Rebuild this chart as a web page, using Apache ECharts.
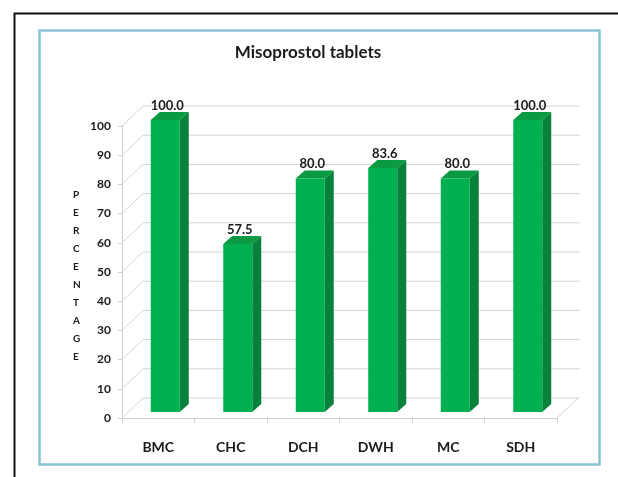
<!DOCTYPE html>
<html>
<head>
<meta charset="utf-8">
<script src="https://cdn.jsdelivr.net/npm/echarts@6/dist/echarts.min.js"></script>
<style>
  html, body { margin: 0; padding: 0; background: #fff; }
  #chart { width: 618px; height: 477px; }
</style>
</head>
<body>
<div id="chart"></div>
<script>
// data
const categories = ["BMC", "CHC", "DCH", "DWH", "MC", "SDH"];
const percentValues = [100.0, 57.5, 80.0, 83.6, 80.0, 100.0];
const yTicks = [0, 10, 20, 30, 40, 50, 60, 70, 80, 90, 100];

// 3d look: offset of the back wall and of the bars from the front plane
const BACK = [21, -20];
const BAR_FRONT = [7, -6];
const BAR_DEPTH = [9, -8];

const chart = echarts.init(document.getElementById("chart"));

// back wall gridlines, left wall and floor
const renderFrame = (params, api) => {
  const cs = params.coordSys;
  const left = cs.x;
  const right = cs.x + cs.width;
  const children = [];
  const lineStyle = { stroke: "#d4d4d4", lineWidth: 1 };
  yTicks.forEach((v) => {
    const y = api.coord([0, v])[1];
    children.push({
      type: "line",
      shape: { x1: left + BACK[0], y1: y + BACK[1], x2: right + BACK[0] + 2, y2: y + BACK[1] },
      style: lineStyle
    });
    children.push({
      type: "line",
      shape: { x1: left, y1: y, x2: left + BACK[0], y2: y + BACK[1] },
      style: lineStyle
    });
  });
  const y0 = api.coord([0, 0])[1];
  children.push({
    type: "line",
    shape: { x1: right, y1: y0, x2: right + BACK[0], y2: y0 + BACK[1] },
    style: lineStyle
  });
  return { type: "group", children };
};

// one 3d bar: front, side, top and its value label
const renderBar = (params, api) => {
  const idx = api.value(0);
  const val = api.value(1);
  const top = api.coord([idx, val]);
  const base = api.coord([idx, 0]);
  const w = api.size([1, 0])[0] * 0.4;
  const x1 = top[0] - w / 2 + BAR_FRONT[0];
  const x2 = x1 + w;
  const yt = top[1] + BAR_FRONT[1];
  const yb = base[1] + BAR_FRONT[1];
  const dx = BAR_DEPTH[0];
  const dy = BAR_DEPTH[1];
  return {
    type: "group",
    children: [
      {
        type: "polygon",
        shape: { points: [[x2, yt], [x2 + dx, yt + dy], [x2 + dx, yb + dy], [x2, yb]] },
        style: { fill: "#08823a" }
      },
      {
        type: "polygon",
        shape: { points: [[x1, yt], [x1 + dx, yt + dy], [x2 + dx, yt + dy], [x2, yt]] },
        style: { fill: "#0b9a42" }
      },
      {
        type: "rect",
        shape: { x: x1, y: yt, width: w, height: yb - yt },
        style: { fill: "#00b050" }
      },
      {
        type: "text",
        style: {
          text: val.toFixed(1),
          x: (x1 + x2) / 2 + 2,
          y: yt + dy,
          align: "center",
          verticalAlign: "bottom",
          font: "bold 13px Lato, sans-serif",
          fill: "#1a1a1a"
        }
      }
    ]
  };
};

const option = {
  animation: false,
  title: {
    text: "Misoprostol tablets",
    left: 303,
    top: 39,
    textAlign: "center",
    textStyle: {
      fontFamily: "Lato",
      fontWeight: "bold",
      fontSize: 17,
      color: "#1a1a1a"
    }
  },
  grid: {
    left: 122,
    right: 61,
    top: 126,
    bottom: 59
  },
  xAxis: {
    type: "category",
    data: categories,
    axisLine: { lineStyle: { color: "#cfcfcf" } },
    axisTick: { show: true, length: 5, lineStyle: { color: "#cfcfcf" } },
    axisLabel: {
      margin: 22,
      fontFamily: "Lato",
      fontWeight: "bold",
      fontSize: 14,
      color: "#1a1a1a"
    }
  },
  yAxis: {
    type: "value",
    min: 0,
    max: 100,
    interval: 10,
    axisLine: { show: true, lineStyle: { color: "#cfcfcf" } },
    axisTick: { show: true, length: 4, lineStyle: { color: "#cfcfcf" } },
    splitLine: { show: false },
    axisLabel: {
      margin: 11,
      fontFamily: "Lato",
      fontWeight: "bold",
      fontSize: 12,
      color: "#1a1a1a"
    }
  },
  graphic: [
    {
      type: "rect",
      left: 12,
      top: 11,
      shape: { width: 700, height: 600 },
      style: { fill: null, stroke: "#111", lineWidth: 2 },
      silent: true
    },
    {
      type: "rect",
      left: 37,
      top: 28,
      shape: { width: 560, height: 434 },
      style: { fill: null, stroke: "#8ac3d6", lineWidth: 2.5 },
      silent: true
    },
    {
      type: "text",
      left: 73,
      top: 186,
      style: {
        text: "P\nE\nR\nC\nE\nN\nT\nA\nG\nE",
        font: "bold 10px Lato, sans-serif",
        lineHeight: 18,
        align: "center",
        fill: "#1a1a1a"
      }
    }
  ],
  series: [
    {
      name: "frame",
      type: "custom",
      silent: true,
      z: 1,
      data: [[0, 0]],
      renderItem: renderFrame
    },
    {
      name: "Misoprostol tablets",
      type: "custom",
      z: 3,
      data: percentValues.map((v, i) => [i, v]),
      renderItem: renderBar
    }
  ]
};

chart.setOption(option);
</script>
</body>
</html>
